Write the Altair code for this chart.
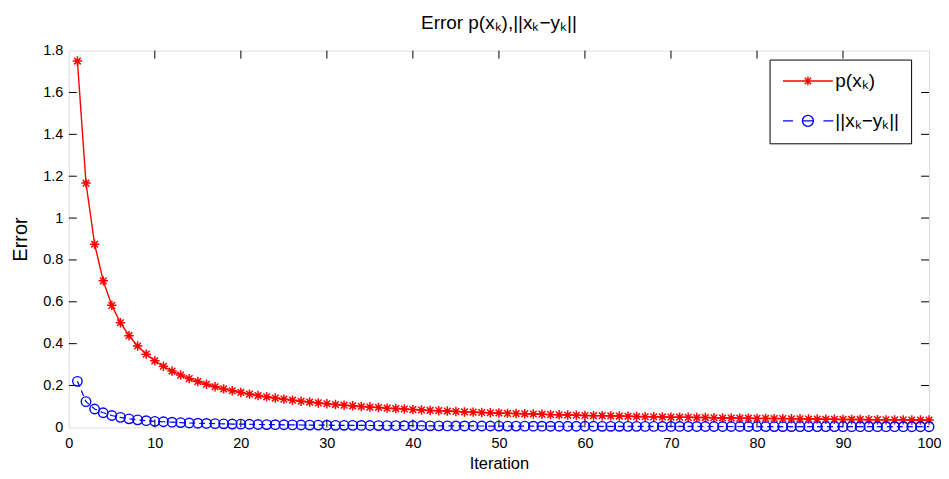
import altair as alt
import pandas as pd

# ---------------- data ----------------
iterations = list(range(1, 101))

p_err = [
    1.750, 1.167, 0.875, 0.700, 0.583, 0.500, 0.438, 0.389, 0.350, 0.318,
    0.292, 0.269, 0.250, 0.233, 0.219, 0.206, 0.194, 0.184, 0.175, 0.167,
    0.159, 0.152, 0.146, 0.140, 0.135, 0.130, 0.125, 0.121, 0.117, 0.113,
    0.109, 0.106, 0.103, 0.100, 0.097, 0.095, 0.092, 0.090, 0.088, 0.085,
    0.083, 0.081, 0.080, 0.078, 0.076, 0.074, 0.073, 0.071, 0.070, 0.069,
    0.067, 0.066, 0.065, 0.064, 0.063, 0.061, 0.060, 0.059, 0.058, 0.057,
    0.056, 0.056, 0.055, 0.054, 0.053, 0.052, 0.051, 0.051, 0.050, 0.049,
    0.049, 0.048, 0.047, 0.047, 0.046, 0.045, 0.045, 0.044, 0.044, 0.043,
    0.043, 0.042, 0.042, 0.041, 0.041, 0.040, 0.040, 0.039, 0.039, 0.038,
    0.038, 0.038, 0.037, 0.037, 0.036, 0.036, 0.036, 0.035, 0.035, 0.035,
]

xy_err = [
    0.220, 0.123, 0.088, 0.070, 0.057, 0.048, 0.041, 0.036, 0.032, 0.029,
    0.027, 0.025, 0.023, 0.021, 0.020, 0.019, 0.018, 0.017, 0.016, 0.0155,
    0.0150, 0.0140, 0.0135, 0.0130, 0.0125, 0.0120, 0.0115, 0.0110, 0.0110, 0.0105,
    0.0100, 0.0100, 0.0097, 0.0094, 0.0091, 0.0088, 0.0086, 0.0084, 0.0082, 0.0080,
    0.0078, 0.0076, 0.0074, 0.0072, 0.0071, 0.0069, 0.0068, 0.0066, 0.0065, 0.0064,
    0.0063, 0.0062, 0.0060, 0.0059, 0.0058, 0.0057, 0.0056, 0.0055, 0.0054, 0.0054,
    0.0053, 0.0052, 0.0051, 0.0051, 0.0050, 0.0049, 0.0048, 0.0048, 0.0047, 0.0046,
    0.0046, 0.0045, 0.0045, 0.0044, 0.0043, 0.0043, 0.0042, 0.0042, 0.0041, 0.0041,
    0.0040, 0.0040, 0.0039, 0.0039, 0.0038, 0.0038, 0.0037, 0.0037, 0.0037, 0.0036,
    0.0036, 0.0035, 0.0035, 0.0035, 0.0034, 0.0034, 0.0034, 0.0033, 0.0033, 0.0033,
]

series_names = ["p(xₖ)", "||xₖ−yₖ||"]
series_colors = ["#ff0000", "#0000ff"]

x_tick_values = [0, 10, 20, 30, 40, 50, 60, 70, 80, 90, 100]
y_tick_values = [0, 0.2, 0.4, 0.6, 0.8, 1, 1.2, 1.4, 1.6, 1.8]
x_inner_ticks = [10, 20, 30, 40, 50, 60, 70, 80, 90]
y_inner_ticks = [0.2, 0.4, 0.6, 0.8, 1, 1.2, 1.4, 1.6]

title_text = "Error p(xₖ),||xₖ−yₖ||"

# ---------------- styling ----------------
FONT = "Liberation Sans"
PLOT_W = 863
PLOT_H = 378
TICK = 8

ASTERISK = ("M-1,0L1,0M0,-1L0,1M-0.7,-0.7L0.7,0.7M-0.7,0.7L0.7,-0.7")
LEG_RED = ("M-5,0L5,0M-0.9,0L0.9,0M0,-0.9L0,0.9"
           "M-0.64,-0.64L0.64,0.64M-0.64,0.64L0.64,-0.64")
LEG_BLUE = ("M-5,0L-3,0M3.1,0L5.1,0M-1,0L1,0"
            "M1.1,0A1.1,1.1 0 1,1 -1.1,0A1.1,1.1 0 1,1 1.1,0")

df = pd.DataFrame({"k": iterations, "p": p_err, "d": xy_err})

x_scale = alt.Scale(domain=[0, 100], nice=False, zero=False)
y_scale = alt.Scale(domain=[0, 1.8], nice=False, zero=False)

x_axis = alt.Axis(values=x_tick_values, ticks=False, domain=False, grid=False,
                  labelFontSize=14.5, labelFont=FONT, labelColor="black",
                  labelPadding=9, labelFlush=False,
                  titleFont=FONT, titleFontSize=16.5, titleFontWeight="normal",
                  titleColor="black", titlePadding=6)
y_axis = alt.Axis(values=y_tick_values, format=".1~f", ticks=False, domain=False,
                  grid=False, labelFontSize=14.5, labelFont=FONT,
                  labelColor="black", labelPadding=6, labelFlush=False,
                  titleFont=FONT, titleFontSize=20, titleFontWeight="normal",
                  titleColor="black", titlePadding=12)


def X(field):
    return alt.X(field, type="quantitative", scale=x_scale, axis=x_axis,
                 title="Iteration")


def Y(field):
    return alt.Y(field, type="quantitative", scale=y_scale, axis=y_axis,
                 title="Error")


base = alt.Chart(df)

red_line = base.mark_line(color="#ff0000", strokeWidth=1.4).encode(
    x=X("k"), y=Y("p"))
red_pts = base.mark_point(shape=ASTERISK, size=90, filled=False,
                          color="#ff0000", strokeWidth=1.5, opacity=1).encode(
    x=X("k"), y=Y("p"))
blue_line = base.mark_line(color="#0000ff", strokeWidth=1.2,
                           strokeDash=[6, 4]).encode(x=X("k"), y=Y("d"))
blue_pts = base.mark_point(shape="circle", size=90, filled=False,
                           color="#0000ff", strokeWidth=1.4, opacity=1).encode(
    x=X("k"), y=Y("d"))

# inward tick marks (MATLAB style), on all four sides
xt = alt.Chart(pd.DataFrame({"t": x_inner_ticks}))
yt = alt.Chart(pd.DataFrame({"t": y_inner_ticks}))
tick_style = dict(color="black", strokeWidth=1)
xt_bottom = xt.mark_rule(**tick_style).encode(
    x=X("t"), y=alt.value(PLOT_H), y2=alt.value(PLOT_H - TICK))
xt_top = xt.mark_rule(**tick_style).encode(
    x=X("t"), y=alt.value(0), y2=alt.value(TICK))
yt_left = yt.mark_rule(**tick_style).encode(
    y=Y("t"), x=alt.value(0), x2=alt.value(TICK))
yt_right = yt.mark_rule(**tick_style).encode(
    y=Y("t"), x=alt.value(PLOT_W - TICK), x2=alt.value(PLOT_W))

# legend (drawn by Vega-Lite from an invisible layer)
leg_df = pd.DataFrame({"series": series_names, "k": [1, 1], "v": [0, 0]})
legend = alt.Legend(title=None, orient="none", legendX=703, legendY=9,
                    padding=12, strokeColor="black", fillColor="white",
                    labelFont=FONT, labelFontSize=19, labelColor="black",
                    symbolSize=100, symbolStrokeWidth=1.4, symbolOffset=17,
                    labelOffset=18, rowPadding=20, labelLimit=300,
                    cornerRadius=0)
legend_layer = alt.Chart(leg_df).mark_point(filled=False, opacity=0).encode(
    x=X("k"), y=Y("v"),
    color=alt.Color("series:N",
                    scale=alt.Scale(domain=series_names, range=series_colors),
                    legend=legend),
    shape=alt.Shape("series:N",
                    scale=alt.Scale(domain=series_names,
                                    range=[LEG_RED, LEG_BLUE]),
                    legend=legend),
)

chart = alt.layer(
    xt_bottom, xt_top, yt_left, yt_right,
    red_line, red_pts, blue_line, blue_pts, legend_layer,
).properties(
    width=PLOT_W, height=PLOT_H,
    title=alt.TitleParams(text=title_text, font=FONT, fontSize=19,
                          fontWeight="normal", color="black", offset=10),
    autosize=alt.AutoSizeParams(type="none"),
    padding={"left": 61, "top": 42, "right": 12, "bottom": 43},
).configure_view(stroke="black", strokeWidth=1).configure(background="white")

chart.save("out.html", embed_options={"renderer": "svg", "actions": False})
